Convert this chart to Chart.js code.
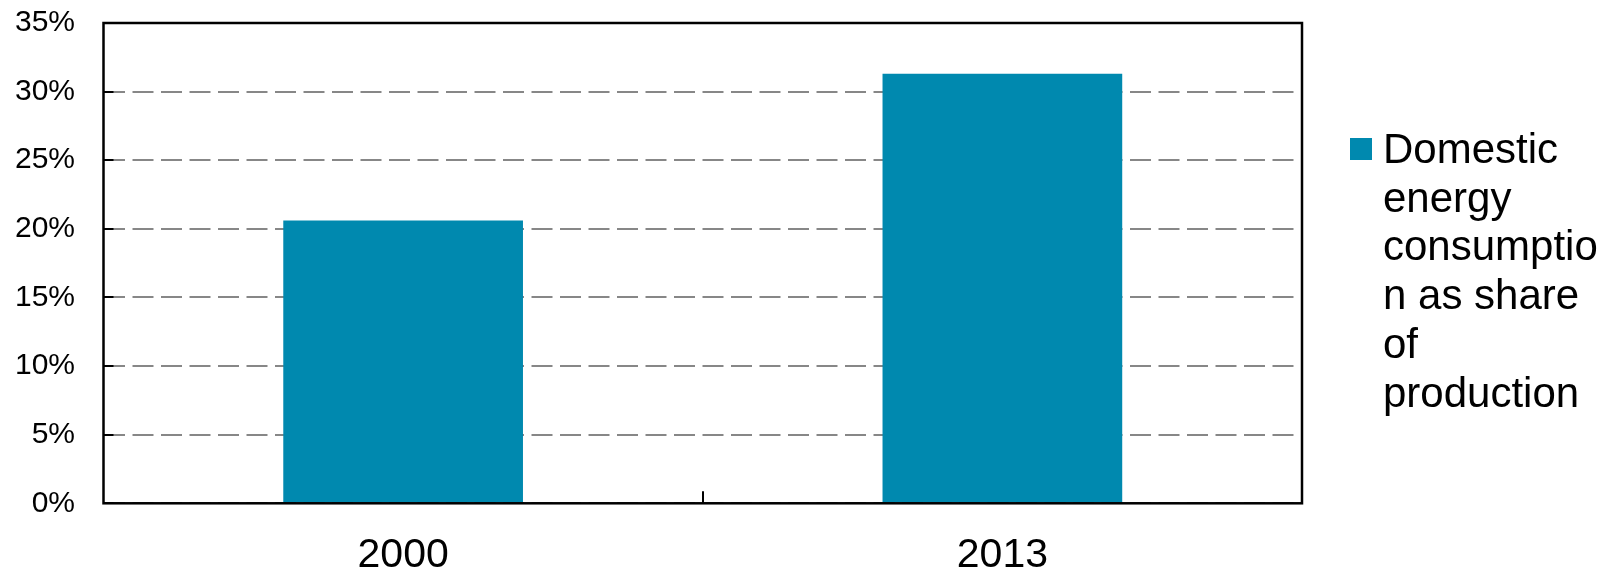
<!DOCTYPE html>
<html>
<head>
<meta charset="utf-8">
<title>Domestic energy consumption</title>
<script src="https://cdn.jsdelivr.net/npm/chart.js@4/dist/chart.umd.min.js"></script>
<style>
  body { margin: 0; background: #fff; }
  #wrap { position: relative; width: 1616px; height: 570px; }
  #legend {
    position: absolute;
    left: 1350px;
    top: 125px;
    font-family: Arial, "Liberation Sans", sans-serif;
    font-size: 42px;
    line-height: 48.7px;
    color: #000;
  }
  #legend .item { display: flex; align-items: flex-start; }
  #legend .box { width: 22px; height: 22px; margin-top: 13px; margin-right: 11px; flex: none; }
  #legend .text { width: 225px; overflow-wrap: break-word; }
</style>
</head>
<body>
<div id="wrap">
  <canvas id="chart"></canvas>
  <div id="legend"></div>
</div>
<script>
const years = ["2000", "2013"];
const sharePct = [20.6, 31.3];
const seriesName = "Domestic energy consumption as share of production";
const yTicks = [0, 5, 10, 15, 20, 25, 30, 35];

const barColor = "#0089AF";
const FONT = "Arial, 'Liberation Sans', sans-serif";

// black plot frame plus the short inward tick marks
const frame = {
  id: "frame",
  afterDatasetsDraw(chart) {
    const { ctx, chartArea: a, scales: { x, y } } = chart;
    ctx.save();
    ctx.strokeStyle = "#000";
    ctx.lineWidth = 2;
    ctx.beginPath();
    y.ticks.forEach((t) => {
      const py = Math.round(y.getPixelForValue(t.value));
      ctx.moveTo(a.left, py);
      ctx.lineTo(a.left + 10, py);
    });
    for (let i = 1; i < x.ticks.length; i++) {
      const px = Math.round((x.getPixelForTick(i - 1) + x.getPixelForTick(i)) / 2);
      ctx.moveTo(px, a.bottom);
      ctx.lineTo(px, a.bottom - 12);
    }
    ctx.stroke();
    ctx.lineWidth = 2.5;
    ctx.strokeRect(a.left, a.top, a.right - a.left, a.bottom - a.top);
    ctx.restore();
  },
};

const chart = new Chart(document.getElementById("chart"), {
  type: "bar",
  data: {
    labels: years,
    datasets: [
      {
        label: seriesName,
        data: sharePct,
        backgroundColor: barColor,
        borderWidth: 0,
        barPercentage: 0.4,
        categoryPercentage: 1,
      },
    ],
  },
  options: {
    responsive: true,
    maintainAspectRatio: false,
    animation: false,
    layout: { padding: { top: 23, right: 314, bottom: 0, left: 0 } },
    plugins: {
      legend: { display: false },
      tooltip: { enabled: false },
    },
    scales: {
      x: {
        grid: { display: false, drawTicks: false },
        border: { display: false },
        ticks: {
          color: "#000",
          padding: 28,
          font: { family: FONT, size: 41 },
        },
        afterFit: (s) => {
          s.height = 66.7;
          s.paddingLeft = 0;
          s.paddingRight = 0;
        },
      },
      y: {
        min: 0,
        max: 35,
        afterBuildTicks: (s) => { s.ticks = yTicks.map((v) => ({ value: v })); },
        grid: {
          color: "#878787",
          lineWidth: 2,
          drawTicks: false,
        },
        border: { display: false, dash: [21, 7.5] },
        ticks: {
          color: "#000",
          padding: 28.5,
          font: { family: FONT, size: 30 },
          callback: (v) => v + "%",
        },
        afterFit: (s) => {
          s.width = 103.5;
          s.paddingTop = 0;
          s.paddingBottom = 0;
        },
      },
    },
  },
  plugins: [frame],
});

// legend kept as HTML so the long label wraps inside its column
const legendEl = document.getElementById("legend");
chart.data.datasets.forEach((ds) => {
  const item = document.createElement("div");
  item.className = "item";
  item.innerHTML = `<span class="box" style="background:${ds.backgroundColor}"></span><span class="text">${ds.label}</span>`;
  legendEl.appendChild(item);
});
</script>
</body>
</html>
